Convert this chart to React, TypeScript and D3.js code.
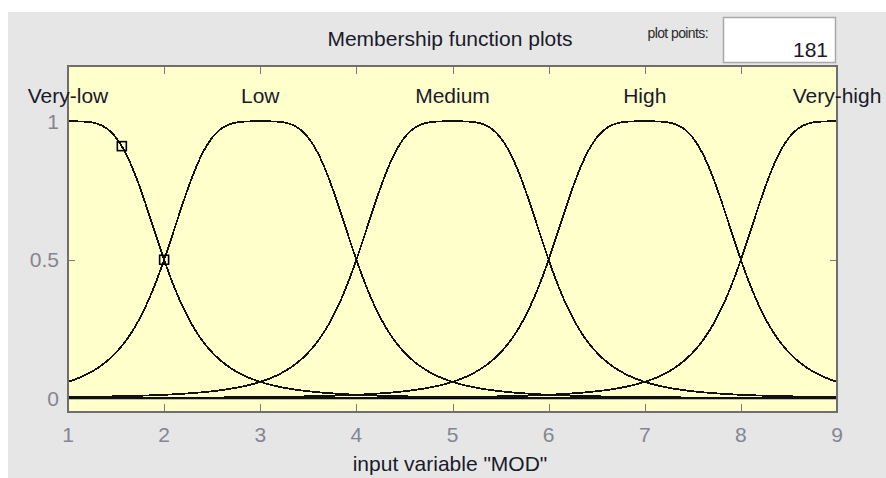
import React from "react";
import * as d3 from "d3";

// Membership functions of input variable "MOD" (generalized bell: 1 / (1 + |(x - c) / a|^(2b)))
const mfNames = ["Very-low", "Low", "Medium", "High", "Very-high"];
const mfCenters = [1, 3, 5, 7, 9];
const mfWidths = [1, 1, 1, 1, 1];
const mfSlopes = [2, 2, 2, 2, 2];

const xTicks = [1, 2, 3, 4, 5, 6, 7, 8, 9];
const yTicks = [0, 0.5, 1];
const yTickLabels = ["0", "0.5", "1"];

// Parameter handles shown on the selected function (Very-low)
const handleX = [1.56, 2];
const selectedIndex = 0;

const plotPoints = 181;
const xLabel = 'input variable "MOD"';
const title = "Membership function plots";

const W = 886;
const H = 478;
const FONT = "'Liberation Sans', Arial, sans-serif";

const plot = { left: 68, right: 837, top: 66, bottom: 412 };

function gbell(x: number, a: number, b: number, c: number) {
  return 1 / (1 + Math.pow(Math.abs((x - c) / a), 2 * b));
}

export default function App() {
  const x = d3.scaleLinear().domain([1, 9]).range([plot.left, plot.right]);
  const y = d3.scaleLinear().domain([-0.05, 1.2]).range([plot.bottom, plot.top]);

  const samples = d3.range(plotPoints).map((i) => 1 + (i * 8) / (plotPoints - 1));
  const line = d3
    .line<[number, number]>()
    .x((d) => x(d[0]))
    .y((d) => y(d[1]));

  const curves = mfNames.map((_, k) =>
    line(samples.map((s) => [s, gbell(s, mfWidths[k], mfSlopes[k], mfCenters[k])] as [number, number]))
  );

  const sel = selectedIndex;
  const handles = handleX.map((hx) => [hx, gbell(hx, mfWidths[sel], mfSlopes[sel], mfCenters[sel])]);

  const tickColor = "#7a7a7a";
  const labelGray = "#85858f";

  return (
    <svg
      width={W}
      height={H}
      style={{ display: "block", position: "fixed", left: 0, top: 0 }}
    >
      <rect x={0} y={0} width={W} height={H} fill="#ffffff" />
      <rect x={8} y={12} width={W - 8} height={H - 12} fill="#e6e6e6" />

      {/* header */}
      <text x={450} y={46} textAnchor="middle" fontFamily={FONT} fontSize={21} fill="#1a1a2a">
        {title}
      </text>
      <text x={708} y={38} textAnchor="end" fontFamily={FONT} fontSize={14} letterSpacing={-0.6} fill="#2a2a2a">
        plot points:
      </text>
      <rect x={723.5} y={17.5} width={112} height={45} fill="#ffffff" stroke="#a8a8a8" strokeWidth={1.5} />
      <text x={828} y={57} textAnchor="end" fontFamily={FONT} fontSize={21} fill="#1a1a2a">
        {plotPoints}
      </text>

      {/* axes area */}
      <rect
        x={plot.left}
        y={plot.top}
        width={plot.right - plot.left}
        height={plot.bottom - plot.top}
        fill="#ffffcc"
      />

      {/* ticks */}
      {xTicks.map((t) => (
        <g key={"xt" + t} stroke={tickColor} strokeWidth={1}>
          <line x1={Math.round(x(t)) + 0.5} x2={Math.round(x(t)) + 0.5} y1={plot.bottom} y2={plot.bottom - 8} />
          <line x1={Math.round(x(t)) + 0.5} x2={Math.round(x(t)) + 0.5} y1={plot.top} y2={plot.top + 8} />
        </g>
      ))}
      {yTicks.map((t) => (
        <g key={"yt" + t} stroke={tickColor} strokeWidth={1}>
          <line x1={plot.left} x2={plot.left + 7} y1={Math.round(y(t)) + 0.5} y2={Math.round(y(t)) + 0.5} />
          <line x1={plot.right} x2={plot.right - 7} y1={Math.round(y(t)) + 0.5} y2={Math.round(y(t)) + 0.5} />
        </g>
      ))}

      {/* zero line */}
      <line
        x1={plot.left}
        x2={plot.right}
        y1={Math.round(y(0)) + 0.5}
        y2={Math.round(y(0)) + 0.5}
        stroke="#000"
        strokeWidth={1.5}
      />

      {/* membership curves */}
      {curves.map((d, k) => (
        <path key={"mf" + k} d={d || ""} fill="none" stroke="#111" strokeWidth={1.8} shapeRendering="crispEdges" />
      ))}

      {/* parameter handles */}
      {handles.map(([hx, hy], i) => (
        <rect
          key={"h" + i}
          x={x(hx) - 4.5}
          y={y(hy) - 4.5}
          width={9}
          height={9}
          fill="none"
          stroke="#000"
          strokeWidth={1.6}
        />
      ))}

      {/* frame */}
      <rect
        x={plot.left}
        y={plot.top}
        width={plot.right - plot.left}
        height={plot.bottom - plot.top}
        fill="none"
        stroke="#6e6e6e"
        strokeWidth={2}
      />

      {/* function names */}
      {mfNames.map((n, k) => (
        <text
          key={"n" + k}
          x={x(mfCenters[k])}
          y={103}
          textAnchor="middle"
          fontFamily={FONT}
          fontSize={21}
          fill="#1a1a2a"
        >
          {n}
        </text>
      ))}

      {/* tick labels */}
      {xTicks.map((t) => (
        <text key={"xl" + t} x={x(t)} y={442} textAnchor="middle" fontFamily={FONT} fontSize={21} fill={labelGray}>
          {t}
        </text>
      ))}
      {yTicks.map((t, i) => (
        <text
          key={"yl" + t}
          x={59}
          y={y(t) + 7.5}
          textAnchor="end"
          fontFamily={FONT}
          fontSize={21}
          fill={labelGray}
        >
          {yTickLabels[i]}
        </text>
      ))}

      <text x={450} y={471} textAnchor="middle" fontFamily={FONT} fontSize={21} fill="#1a1a2a">
        {xLabel}
      </text>
    </svg>
  );
}
